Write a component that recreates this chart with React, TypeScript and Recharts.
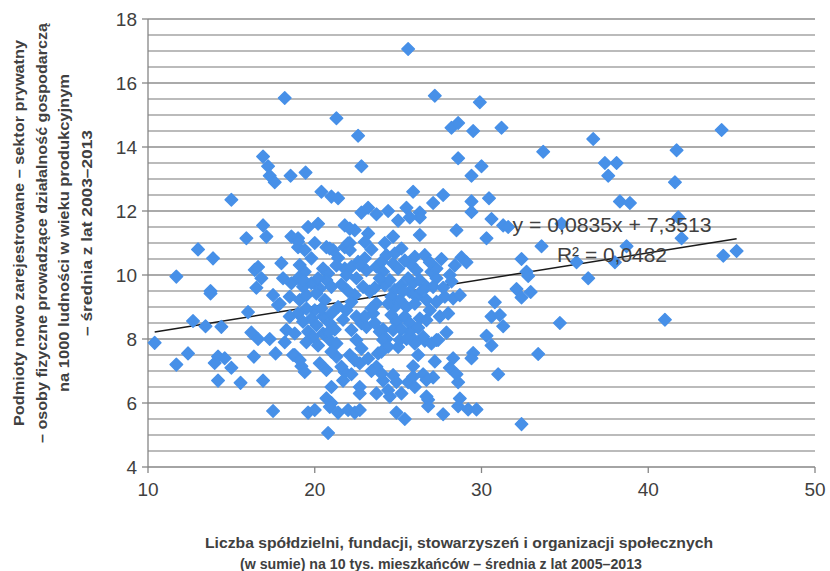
import React from 'react';
import { ScatterChart, Scatter, XAxis, YAxis, ReferenceLine } from 'recharts';

const xTicks = [10, 20, 30, 40, 50];
const yTicks = [4, 6, 8, 10, 12, 14, 16, 18];
const yGridValues = [4.5, 5, 5.5, 6, 6.5, 7, 7.5, 8, 8.5, 9, 9.5, 10, 10.5, 11, 11.5, 12, 12.5, 13, 13.5, 14, 14.5, 15, 15.5, 16, 16.5, 17, 17.5, 18];
const xDomain: [number, number] = [10, 50];
const trendSlope = 0.0835;
const trendIntercept = 7.3513;
const equationLabel = 'y = 0,0835x + 7,3513';
const r2Label = 'R² = 0,0482';
const yTitleLines = [
  'Podmioty nowo zarejestrowane – sektor prywatny',
  '– osoby fizyczne prowadzące działalność gospodarczą',
  'na 1000 ludności w wieku produkcyjnym',
  '– średnia z lat 2003–2013',
];
const xTitleLines = [
  'Liczba spółdzielni, fundacji, stowarzyszeń i organizacji społecznych',
  '(w sumie) na 10 tys. mieszkańców – średnia z lat 2005–2013',
];

const sparseLeft: [number, number][] = [
  [10.4, 7.88], [11.7, 7.2], [11.7, 9.95], [12.4, 7.55], [13.0, 10.8], [13.9, 10.52], [13.75, 9.5], [13.75, 9.42],
  [12.7, 8.56], [13.45, 8.4], [14.4, 8.38], [16.0, 8.84], [14.0, 7.25], [14.2, 7.45], [14.6, 7.4], [15.0, 7.1],
  [14.2, 6.7], [15.55, 6.63], [16.9, 6.7], [17.5, 5.75], [16.2, 8.2], [16.6, 8.0], [17.3, 8.0], [18.2, 7.9],
  [16.35, 7.45], [17.65, 7.55], [18.7, 7.5], [19.2, 7.15], [19.4, 6.97], [20.8, 5.06], [19.6, 5.7], [20.0, 5.78],
  [20.7, 6.15], [21.0, 6.0], [21.4, 5.7], [22.0, 5.78], [22.4, 5.7], [22.7, 5.78], [21.0, 6.5], [22.7, 6.5],
  [22.7, 6.3], [21.8, 6.97], [21.7, 6.7], [20.9, 5.88],
  [16.4, 10.16], [16.6, 10.25], [16.8, 9.9], [16.5, 9.6], [18.0, 10.37], [17.5, 9.37], [17.8, 9.06],
];

const upperLeft: [number, number][] = [
  [18.2, 15.53], [21.3, 14.9], [22.6, 14.35], [22.8, 13.4], [16.9, 13.7], [17.2, 13.4], [17.3, 13.1], [17.6, 12.9],
  [18.55, 13.1], [19.45, 13.2], [20.4, 12.6], [21.0, 12.45], [21.4, 12.4], [15.0, 12.35], [22.8, 11.95], [23.2, 12.1],
  [16.9, 11.55], [17.1, 11.2], [15.9, 11.15], [19.6, 11.5], [20.2, 11.6], [18.6, 11.2], [19.0, 11.15], [21.8, 11.55],
  [22.4, 11.4], [23.2, 11.3], [22.1, 11.45], [19.0, 10.87], [19.4, 10.78], [20.0, 11.0], [20.7, 10.87], [21.1, 10.78],
  [21.8, 10.87], [22.1, 11.0], [23.0, 11.03], [21.4, 10.53],
];

const upperMiddle: [number, number][] = [
  [25.6, 17.06], [27.2, 15.6], [29.9, 15.4], [28.2, 14.6], [28.6, 14.75], [29.5, 14.5], [31.2, 14.6], [36.7, 14.25],
  [33.7, 13.85], [28.6, 13.65], [30.0, 13.4], [29.4, 13.1], [25.9, 12.6], [27.7, 12.5], [27.1, 12.25], [29.4, 12.3],
  [29.4, 11.97], [30.45, 12.4], [24.4, 12.0], [23.7, 11.9], [25.5, 12.1], [26.3, 11.95], [26.3, 11.8], [25.0, 11.7],
  [25.7, 11.8], [30.6, 11.75], [31.3, 11.55], [31.6, 11.5], [34.8, 11.6], [28.5, 11.4], [24.7, 11.2], [26.3, 11.25],
  [30.3, 11.15],
];

const farRight: [number, number][] = [
  [44.4, 14.53], [41.7, 13.9], [37.4, 13.5], [38.1, 13.5], [37.6, 13.1], [41.6, 12.9], [38.3, 12.3], [38.9, 12.25],
  [41.8, 11.8], [42.0, 11.15], [38.0, 10.4], [38.7, 10.9], [41.0, 8.6], [44.5, 10.6], [45.3, 10.75],
];

const middleRight: [number, number][] = [
  [33.6, 10.9], [35.7, 10.4], [36.4, 9.9], [32.4, 10.5], [32.7, 10.1], [32.8, 9.97], [32.1, 9.56], [32.4, 9.3],
  [32.95, 9.47], [34.7, 8.5], [33.4, 7.53], [32.4, 5.34], [30.8, 9.15], [30.6, 8.7], [31.1, 8.75], [31.3, 8.4],
  [30.3, 8.1], [30.6, 7.8], [29.5, 7.56], [29.4, 7.4], [31.0, 6.9], [28.8, 10.55], [29.1, 10.4], [28.3, 7.4],
  [28.1, 7.1], [28.5, 6.9], [28.6, 6.65], [26.8, 6.1], [26.8, 5.9], [27.7, 5.65], [28.6, 5.9], [29.2, 5.8],
  [29.7, 5.8], [25.4, 5.5], [24.9, 5.7], [25.9, 7.15], [26.5, 6.9], [27.1, 6.8], [25.6, 6.65], [24.1, 6.7],
  [24.4, 6.4], [23.7, 6.3], [24.1, 8.3], [24.3, 8.0], [25.0, 7.75], [25.9, 8.0], [26.6, 7.95], [27.3, 7.97],
];

const denseCore: [number, number][] = [
  [19.0, 11.04], [20.9, 10.83], [22.0, 10.99], [22.1, 10.78], [25.2, 10.83], [19.8, 10.52], [22.6, 10.41], [23.0, 10.52],
  [24.3, 10.62], [24.8, 10.67], [26.0, 10.57], [26.6, 10.62],
  [19.1, 10.31], [19.4, 10.1], [20.5, 10.2], [20.8, 10.05], [21.8, 10.2], [22.2, 10.26], [21.9, 10.0], [22.7, 10.31],
  [23.1, 10.15], [23.7, 10.26], [24.0, 10.41], [24.1, 10.1], [24.7, 10.36], [25.0, 10.2], [25.8, 10.31], [26.1, 10.15],
  [27.0, 10.1], [27.3, 10.2], [28.1, 10.0],
  [18.1, 9.9], [18.6, 9.74], [19.0, 9.9], [19.3, 9.63], [19.8, 9.74], [20.3, 9.58], [20.7, 9.84], [21.0, 9.63],
  [22.9, 9.63], [22.4, 9.37], [23.3, 9.48], [24.2, 9.68], [24.5, 9.84], [24.8, 9.53], [25.2, 9.68], [25.9, 9.74],
  [26.3, 9.84], [26.7, 9.63], [27.3, 9.9], [27.1, 9.63], [25.7, 9.48],
  [18.5, 9.32], [19.1, 9.22], [19.5, 9.37], [20.1, 9.42], [20.6, 9.22], [21.4, 9.0], [22.2, 9.16], [23.7, 9.11],
  [24.6, 9.32], [25.1, 9.22], [24.8, 9.0], [25.5, 9.0], [26.1, 9.32], [26.7, 9.22], [27.3, 9.16], [27.8, 9.32],
  [28.3, 9.27], [28.7, 9.37], [17.9, 9.1],
  [18.5, 8.7], [19.0, 8.8], [19.3, 8.54], [19.8, 8.64], [20.1, 8.43], [20.5, 8.7], [20.9, 8.49], [22.5, 8.7],
  [22.8, 8.49], [23.5, 8.8], [24.6, 8.75], [24.9, 8.54], [25.4, 8.7], [25.7, 8.49], [26.3, 8.64], [26.7, 8.59],
  [18.3, 8.28], [18.8, 8.17], [19.6, 8.23], [19.9, 8.07], [20.5, 8.17], [20.9, 7.97], [21.3, 7.86], [22.2, 8.28],
  [22.5, 7.97], [23.1, 8.38], [23.9, 8.23], [24.1, 7.97], [24.4, 7.76], [24.7, 8.28], [25.7, 8.23], [26.0, 7.86],
  [26.5, 8.07], [27.0, 7.86], [27.4, 7.97], [25.1, 7.97],
  [18.8, 7.5], [19.1, 7.34], [20.3, 7.24], [20.7, 7.03], [21.3, 7.45], [21.6, 7.13], [22.1, 7.5], [22.4, 7.34],
  [22.7, 7.24], [23.2, 7.39], [23.8, 7.55], [23.7, 7.13], [24.0, 6.92], [24.7, 6.87], [24.9, 6.66], [25.9, 6.82],
  [26.7, 6.72], [24.5, 6.2], [26.7, 6.2], [28.7, 6.14],
];

const denseFill: [number, number][] = [
  [20.0, 8.9], [20.4, 8.95], [21.0, 8.8], [21.2, 8.3], [21.7, 8.6], [21.9, 8.9], [22.0, 9.5], [21.6, 9.7],
  [21.3, 10.3], [20.2, 9.9], [20.8, 8.2], [19.5, 8.95], [19.3, 9.85], [23.4, 8.95], [23.6, 9.6], [23.9, 9.9],
  [24.4, 9.1], [25.3, 9.5], [25.6, 9.9], [26.0, 9.1], [26.4, 9.5], [25.2, 8.3], [25.5, 8.0], [26.2, 8.35],
  [26.9, 8.9], [27.5, 8.7], [27.7, 9.6], [27.6, 10.5], [26.9, 10.4], [25.4, 10.45], [23.4, 10.8], [24.2, 11.0],
  [22.5, 9.9], [23.0, 8.7], [23.6, 8.5], [24.0, 7.6], [22.8, 7.7], [21.0, 7.6], [20.2, 7.8], [19.5, 7.9],
  [26.2, 7.5], [27.2, 7.3], [23.4, 7.0], [22.2, 6.9], [26.0, 6.5], [25.2, 6.3], [27.9, 8.2], [28.0, 8.8],
  [28.4, 10.3], [28.2, 9.8],
];

const observations: [number, number][] = [
  ...sparseLeft, ...upperLeft, ...upperMiddle, ...farRight, ...middleRight, ...denseCore, ...denseFill,
];

const pointData = observations.map(([x, y]) => ({ x, y }));
const obsX = observations.map((o) => o[0]);
const trendStart = Math.min(...obsX);
const trendEnd = Math.max(...obsX);

const MARKER = '#4790E8';
const TEXT = '#404040';
const FONT = '"Liberation Sans", Arial, sans-serif';

const Diamond = (props: any) => {
  const { cx, cy } = props;
  if (cx == null || cy == null) return null;
  const r = 6.3;
  return (
    <path
      d={`M${cx},${cy - r}L${cx + r},${cy}L${cx},${cy + r}L${cx - r},${cy}Z`}
      fill={MARKER}
      stroke={MARKER}
      strokeWidth={1.4}
      strokeLinejoin="round"
    />
  );
};

export default function App() {
  return (
    <div style={{ position: 'absolute', left: 0, top: 0, width: 830, height: 571 }}>
      <ScatterChart width={830} height={571} margin={{ top: 19, right: 15, bottom: 0, left: 0 }}>
        <XAxis
          type="number"
          dataKey="x"
          domain={xDomain}
          ticks={xTicks}
          height={104}
          axisLine={{ stroke: '#868686', strokeWidth: 1.3 }}
          tickLine={{ stroke: '#868686', strokeWidth: 1.3 }}
          tickSize={6}
          tickMargin={10}
          tick={{ fill: TEXT, fontSize: 19, fontFamily: FONT }}
        />
        <YAxis
          type="number"
          dataKey="y"
          domain={[4, 18]}
          ticks={yTicks}
          width={148}
          axisLine={{ stroke: '#868686', strokeWidth: 1.3 }}
          tickLine={{ stroke: '#868686', strokeWidth: 1.3 }}
          tickSize={6}
          tickMargin={5}
          tick={{ fill: TEXT, fontSize: 19, fontFamily: FONT }}
        />
        {yGridValues.map((v) => (
          <ReferenceLine
            key={v}
            segment={[{ x: xDomain[0], y: v }, { x: xDomain[1], y: v }]}
            stroke={v % 2 === 0 ? '#8e8e8e' : '#a4a4a4'}
            strokeWidth={1.4}
          />
        ))}
        <Scatter data={pointData} shape={Diamond} isAnimationActive={false} />
        <ReferenceLine
          segment={[
            { x: trendStart, y: trendSlope * trendStart + trendIntercept },
            { x: trendEnd, y: trendSlope * trendEnd + trendIntercept },
          ]}
          stroke="#1a1a1a"
          strokeWidth={1.5}
        />
      </ScatterChart>
      <svg width={830} height={571} style={{ position: 'absolute', left: 0, top: 0, pointerEvents: 'none' }}>
        <text x={612} y={232} textAnchor="middle" fontSize={20} fill={TEXT} fontFamily={FONT} textLength={199} lengthAdjust="spacingAndGlyphs">{equationLabel}</text>
        <text x={612} y={262} textAnchor="middle" fontSize={20} fill={TEXT} fontFamily={FONT} textLength={110} lengthAdjust="spacingAndGlyphs">{r2Label}</text>
        {yTitleLines.map((line, i) => (
          <text
            key={i}
            transform={`translate(${24 + i * 22.5}, 233) rotate(-90)`}
            textAnchor="middle"
            fontSize={15}
            fontWeight="bold"
            fill={TEXT}
            fontFamily={FONT}
            textLength={[386, 420, 318, 206][i]}
            lengthAdjust="spacingAndGlyphs"
          >
            {line}
          </text>
        ))}
        <text x={459} y={548} textAnchor="middle" fontSize={15} fontWeight="bold" fill={TEXT} fontFamily={FONT} textLength={508} lengthAdjust="spacingAndGlyphs">{xTitleLines[0]}</text>
        <text x={441} y={569} textAnchor="middle" fontSize={15} fontWeight="bold" fill={TEXT} fontFamily={FONT} textLength={402} lengthAdjust="spacingAndGlyphs">{xTitleLines[1]}</text>
      </svg>
    </div>
  );
}
